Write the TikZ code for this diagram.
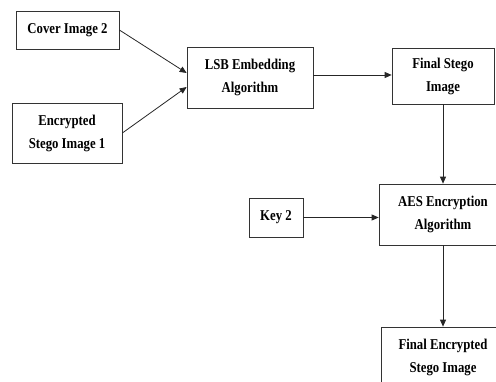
\documentclass[tikz,border=0pt]{standalone}
\usepackage{fontspec}
\setmainfont{Liberation Serif}[FakeStretch=0.85]
\usetikzlibrary{arrows.meta}
\begin{document}
\begin{tikzpicture}[x=1pt,y=-1pt,
  box/.style={draw=black!80,line width=0.7pt,align=center,inner sep=0pt,
    font=\fontsize{15}{23}\selectfont\bfseries},
  flow/.style={draw=black!85,line width=0.8pt,-{Triangle[length=7pt,width=6pt]}}]
\useasboundingbox (0,0) rectangle (496,382);
\clip (0,0) rectangle (496,382);
% input boxes
\node[box,minimum width=103pt,minimum height=38pt] (cover) at (67.5,30) {Cover Image 2};
\node[box,minimum width=110pt,minimum height=60pt] (enc) at (67,133) {Encrypted\\Stego Image 1};
% embedding and stego output
\node[box,minimum width=126pt,minimum height=61pt] (lsb) at (250,77.5) {LSB Embedding\\Algorithm};
\node[box,minimum width=102pt,minimum height=56pt] (fstego) at (443,76) {Final Stego\\Image};
% encryption stage
\node[box,minimum width=128pt,minimum height=61pt] (aes) at (443,214.5) {AES Encryption\\Algorithm};
\node[box,minimum width=54pt,minimum height=39pt] (key) at (276,217.5) {Key 2};
\node[box,minimum width=124pt,minimum height=60pt] (fenc) at (443,357) {Final Encrypted\\Stego Image};
% connectors
\coordinate (lsbout) at ([yshift=2.5pt]lsb.east);
\draw[flow] (cover.east) -- ([yshift=4.5pt]lsb.west);
\draw[flow] (enc.east) -- ([yshift=-9.5pt]lsb.west);
\draw[flow] (lsbout) -- (lsbout -| fstego.west);
\draw[flow] (fstego.south) -- (aes.north);
\draw[flow] (key.east) -- (aes.west |- key.east);
\draw[flow] (aes.south) -- (fenc.north);
\end{tikzpicture}
\end{document}
